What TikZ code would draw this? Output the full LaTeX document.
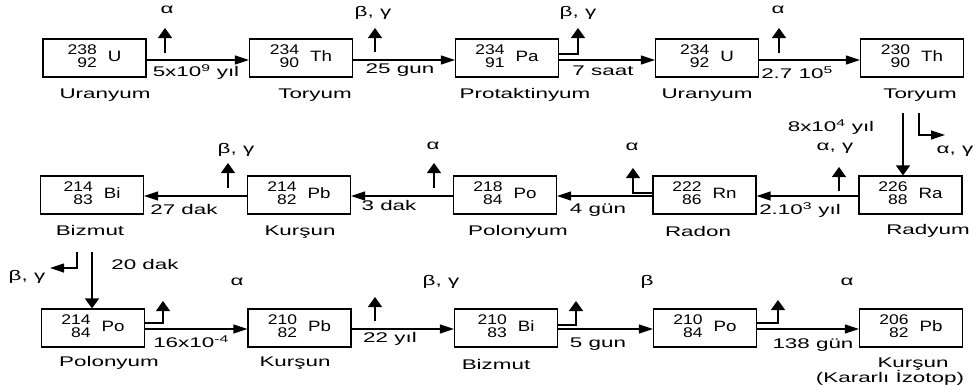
\documentclass[tikz,border=0pt]{standalone}
\usepackage{fontspec}
\setmainfont{Liberation Sans}[FakeStretch=1.6]
\newfontfamily\nucfont{Liberation Sans}[FakeStretch=1.25]
\usetikzlibrary{arrows.meta}

% nuclide notation: mass number over atomic number, then the symbol
\newcommand\nucl[3]{\nucfont{\fontsize{14}{10.5}\selectfont\begin{tabular}[c]{@{}r@{}}#1\\#2\end{tabular}}\hspace{11pt}{\fontsize{15}{16}\selectfont#3}}

\tikzset{
  nuc/.style={draw, line width=1.1pt, minimum width=103pt, minimum height=38pt, inner sep=0pt},
  lbl/.style={inner sep=0pt, font=\fontsize{14}{16}\selectfont},
  harr/.style={line width=1.2pt, -{Triangle[length=14pt,width=9pt]}},
  varr/.style={line width=1.2pt, -{Triangle[length=10pt,width=14pt]}}
}

\begin{document}
\begin{tikzpicture}[x=1pt,y=-1pt]
\useasboundingbox (0,0) rectangle (978,391);

% ---------- row 1 ----------
\node[nuc] (U238)  at (94.5,58) {\nucl{238}{92}{U}};
\node[nuc] (Th234) at (301,58)  {\nucl{234}{90}{Th}};
\node[nuc] (Pa234) at (507,58)  {\nucl{234}{91}{Pa}};
\node[nuc] (U234)  at (707,58)  {\nucl{234}{92}{U}};
\node[nuc] (Th230) at (912,58)  {\nucl{230}{90}{Th}};

\draw[harr] ([yshift=-2pt]U238.east)  -- ([yshift=-2pt]Th234.west);
\draw[harr] ([yshift=-2pt]Th234.east) -- ([yshift=-2pt]Pa234.west);
\draw[harr] ([yshift=-2pt]Pa234.east) -- ([yshift=-2pt]U234.west);
\draw[harr] ([yshift=-2pt]U234.east)  -- ([yshift=-2pt]Th230.west);

\coordinate (e1) at (165,53);
\coordinate (e2) at (375,52);
\coordinate (e3) at (578,28);
\coordinate (e4) at (779,53);
\draw[varr] (e1) -- (165,28);
\draw[varr] (e2) -- (375,28);
\draw[varr] ([yshift=4pt]Pa234.east) -| (e3);
\draw[varr] (e4) -- (779,28);

\node[lbl] (a1) at (167,10) {α};
\node[lbl] (a2) at (373,13) {β, γ};
\node[lbl] (a3) at (578,13) {β, γ};
\node[lbl] (a4) at (778,10) {α};

\node[lbl] (h1) at (196,72) {5x10\textsuperscript{9} yıl};
\node[lbl] (h2) at (400,70) {25 gun};
\node[lbl] (h3) at (603,71) {7 saat};
\node[lbl] (h4) at (797,73) {2.7 10\textsuperscript{5}};

\node[lbl] (n1) at (105,95) {Uranyum};
\node[lbl] (n2) at (315,95) {Toryum};
\node[lbl] (n3) at (525,95) {Protaktinyum};
\node[lbl] (n4) at (707,95) {Uranyum};
\node[lbl] (n5) at (920,95) {Toryum};

% ---------- Th-230 to Ra-226 ----------
\node[nuc] (Ra226) at (910.5,195) {\nucl{226}{88}{Ra}};
\coordinate (t1) at (903,113);
\coordinate (t2) at (919,113);
\coordinate (t3) at (945,135);
\draw[varr] (t1) -- (t1 |- Ra226.north);
\draw[harr] (t2) |- (t3);
\node[lbl] (h5) at (831,127) {8x10\textsuperscript{4} yıl};
\node[lbl] (a5) at (955,151) {α, γ};

% ---------- row 2 (right to left) ----------
\node[nuc] (Rn222) at (704.5,195) {\nucl{222}{86}{Rn}};
\node[nuc] (Po218) at (505,195)   {\nucl{218}{84}{Po}};
\node[nuc] (Pb214) at (299,195)   {\nucl{214}{82}{Pb}};
\node[nuc] (Bi214) at (92,195)    {\nucl{214}{83}{Bi}};

\draw[harr] ([yshift=-1pt]Ra226.west) -- ([yshift=-1pt]Rn222.east);
\draw[harr] ([yshift=-1pt]Rn222.west) -- ([yshift=-1pt]Po218.east);
\draw[harr] ([yshift=-1pt]Po218.west) -- ([yshift=-1pt]Pb214.east);
\draw[harr] ([yshift=-1pt]Pb214.west) -- ([yshift=-1pt]Bi214.east);

\coordinate (f1) at (839,191);
\coordinate (f2) at (633,168);
\coordinate (f3) at (434,188);
\coordinate (f4) at (228,188);
\draw[varr] (f1) -- (839,167);
\draw[varr] ([yshift=2pt]Rn222.west) -| (f2);
\draw[varr] (f3) -- (434,163);
\draw[varr] (f4) -- (228,163);

\node[lbl] (a6) at (835,148) {α, γ};
\node[lbl] (a7) at (632,147) {α};
\node[lbl] (a8) at (433,146) {α};
\node[lbl] (a9) at (236,150) {β, γ};

\node[lbl] (h6) at (800,210) {2.10\textsuperscript{3} yıl};
\node[lbl] (h7) at (598,210) {4 gün};
\node[lbl] (h8) at (389,205) {3 dak};
\node[lbl] (h9) at (184,209) {27 dak};

\node[lbl] (n6)  at (928,231) {Radyum};
\node[lbl] (n7)  at (698,231) {Radon};
\node[lbl] (n8)  at (518,232) {Polonyum};
\node[lbl] (n9)  at (300,232) {Kurşun};
\node[lbl] (n10) at (90,230)  {Bizmut};

% ---------- Bi-214 to Po-214 ----------
\node[nuc] (Po214) at (93,328) {\nucl{214}{84}{Po}};
\coordinate (b1) at (92,252);
\coordinate (b2) at (77,252);
\coordinate (b3) at (50,268);
\draw[varr] (b1) -- (b1 |- Po214.north);
\draw[harr] (b2) |- (b3);
\node[lbl] (h10) at (145,264) {20 dak};
\node[lbl] (a10) at (27,277)  {β, γ};

% ---------- row 3 ----------
\node[nuc] (Pb210) at (299.5,328) {\nucl{210}{82}{Pb}};
\node[nuc] (Bi210) at (506,328)   {\nucl{210}{83}{Bi}};
\node[nuc] (Po210) at (705,328)   {\nucl{210}{84}{Po}};
\node[nuc] (Pb206) at (911,328)   {\nucl{206}{82}{Pb}};

\draw[harr] ([yshift=-1pt]Po214.east) -- ([yshift=-1pt]Pb210.west);
\draw[harr] ([yshift=-1pt]Pb210.east) -- ([yshift=-1pt]Bi210.west);
\draw[harr] ([yshift=-1pt]Bi210.east) -- ([yshift=-1pt]Po210.west);
\draw[harr] ([yshift=-1pt]Po210.east) -- ([yshift=-1pt]Pb206.west);

\coordinate (g1) at (163,301);
\coordinate (g2) at (375,321);
\coordinate (g3) at (576,301);
\coordinate (g4) at (778,300);
\draw[varr] ([yshift=5pt]Po214.east) -| (g1);
\draw[varr] (g2) -- (375,297);
\draw[varr] ([yshift=3pt]Bi210.east) -| (g3);
\draw[varr] ([yshift=5pt]Po210.east) -| (g4);

\node[lbl] (a11) at (237,282) {α};
\node[lbl] (a12) at (441,282) {β, γ};
\node[lbl] (a13) at (647,282) {β};
\node[lbl] (a14) at (847,282) {α};

\node[lbl] (h11) at (191,342) {16x10\textsuperscript{-4}};
\node[lbl] (h12) at (390,339) {22 yıl};
\node[lbl] (h13) at (598,344) {5 gun};
\node[lbl] (h14) at (813,345) {138 gün};

\node[lbl] (n11) at (109,363) {Polonyum};
\node[lbl] (n12) at (295,363) {Kurşun};
\node[lbl] (n13) at (496,364) {Bizmut};
\node[lbl] (n14) at (913,364) {Kurşun};
\node[lbl] (n15) at (890,378) {(Kararlı İzotop)};
\end{tikzpicture}
\end{document}
